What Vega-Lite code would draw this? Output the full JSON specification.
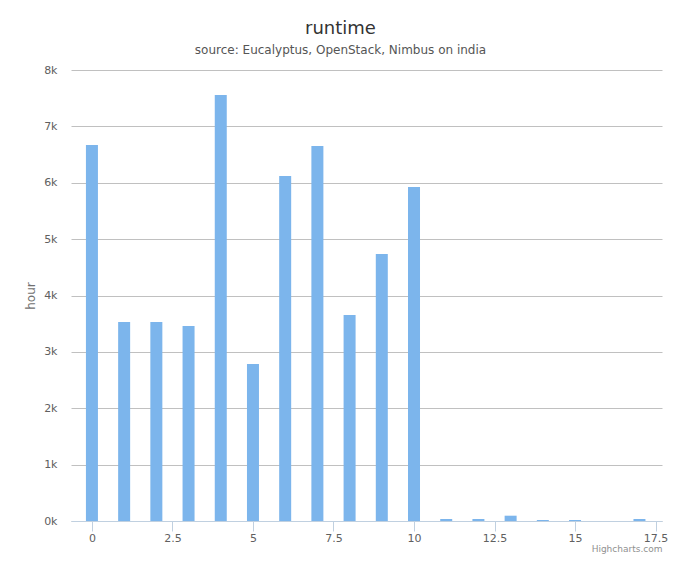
{
  "$schema": "https://vega.github.io/schema/vega-lite/v6.json",
  "width": 591,
  "height": 451,
  "autosize": {"type": "none"},
  "padding": {"left": 71, "top": 70, "right": 18, "bottom": 45},
  "background": "#ffffff",
  "title": {
    "text": "runtime",
    "subtitle": "source: Eucalyptus, OpenStack, Nimbus on india",
    "anchor": "middle",
    "dx": -26,
    "offset": 8,
    "font": "DejaVu Sans",
    "fontSize": 18,
    "fontWeight": "normal",
    "color": "#333333",
    "subtitleFont": "DejaVu Sans",
    "subtitleFontSize": 12,
    "subtitleColor": "#555555",
    "subtitlePadding": 7
  },
  "config": {
    "view": {"stroke": null},
    "font": "DejaVu Sans"
  },
  "data": {
    "values": [
      {"x": 0, "hour": 6670},
      {"x": 1, "hour": 3530},
      {"x": 2, "hour": 3530},
      {"x": 3, "hour": 3460},
      {"x": 4, "hour": 7557},
      {"x": 5, "hour": 2785},
      {"x": 6, "hour": 6120},
      {"x": 7, "hour": 6652},
      {"x": 8, "hour": 3654},
      {"x": 9, "hour": 4736},
      {"x": 10, "hour": 5925},
      {"x": 11, "hour": 35},
      {"x": 12, "hour": 35},
      {"x": 13, "hour": 94},
      {"x": 14, "hour": 18},
      {"x": 15, "hour": 18},
      {"x": 16, "hour": 0},
      {"x": 17, "hour": 35}
    ]
  },
  "mark": {"type": "bar", "width": 12, "color": "#7cb5ec"},
  "encoding": {
    "x": {
      "field": "x",
      "type": "quantitative",
      "scale": {"domain": [-0.65, 17.7], "nice": false, "zero": false, "padding": 0},
      "axis": {
        "values": [0, 2.5, 5, 7.5, 10, 12.5, 15, 17.5],
        "labelExpr": "'' + datum.value",
        "labelFlush": false,
        "labelOverlap": false,
        "grid": false,
        "domainColor": "#C0D0E0",
        "tickColor": "#C0D0E0",
        "tickSize": 10,
        "labelColor": "#606060",
        "labelFontSize": 11,
        "labelPadding": 1,
        "title": "Highcharts.com",
        "titleAnchor": "end",
        "titleAlign": "right",
        "titleColor": "#909090",
        "titleFontSize": 9,
        "titleFontWeight": "normal",
        "titlePadding": 1
      }
    },
    "y": {
      "field": "hour",
      "type": "quantitative",
      "scale": {"domain": [0, 8000], "nice": false},
      "axis": {
        "values": [0, 1000, 2000, 3000, 4000, 5000, 6000, 7000, 8000],
        "labelExpr": "(datum.value / 1000) + 'k'",
        "domain": false,
        "ticks": false,
        "grid": true,
        "gridColor": "#C0C0C0",
        "gridWidth": 1,
        "labelColor": "#606060",
        "labelFontSize": 11,
        "labelPadding": 14,
        "title": "hour",
        "titleColor": "#707070",
        "titleFontSize": 12,
        "titleFontWeight": "normal",
        "titlePadding": 6
      }
    }
  }
}
